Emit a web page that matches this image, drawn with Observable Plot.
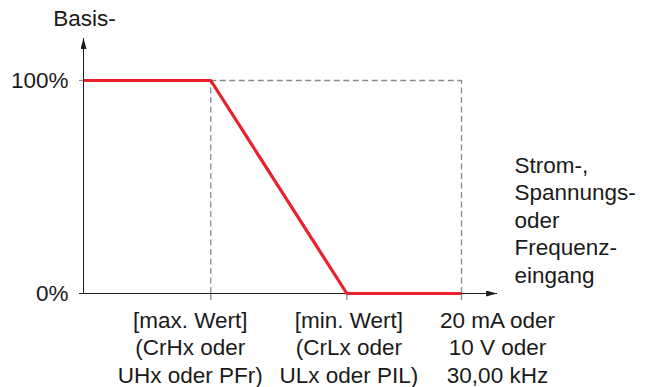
<!DOCTYPE html>
<html><head><meta charset="utf-8">
<script src="https://cdn.jsdelivr.net/npm/d3@7"></script>
<script src="https://cdn.jsdelivr.net/npm/@observablehq/plot@0.6"></script>
<style>
html,body{margin:0;padding:0;background:#fff;}
#chart svg{display:block;}
</style>
</head><body><div id="chart"></div>
<script>
// ---- data ----
const inputX = [0, 1.01, 2.09, 3];          // 0, [max. Wert], [min. Wert], 20 mA/10 V/30 kHz
const referencePct = [100, 100, 0, 0];       // Basis- (%)
const xTicks = [1.01, 2.09, 3];
const xTickLabels = [
  "[max. Wert]\n(CrHx oder\nUHx oder PFr)",
  "[min. Wert]\n(CrLx oder\nULx oder PIL)",
  "20 mA oder\n10 V oder\n30,00 kHz"
];
const yTicks = [0, 100];
const yTickLabels = ["0%", "100%"];
const yTitle = "Basis-";
const xTitle = "Strom-,\nSpannungs-\noder\nFrequenz-\neingang";
const xAxisEnd = 3.286;
const yAxisEnd = 119.7;

// ---- chart ----
const FONT = 22.5;
const LH = 1.22;
const red = "#e8212b";
const grey = "#8a8a8a";
const ink = "#1a1a1a";
const axisInk = "#1b1b1b";

const pts = inputX.map((x, i) => ({x, y: referencePct[i]}));
const labelDx = [-20.5, 2, 36];

const plot = Plot.plot({
  width: 650,
  height: 387,
  marginLeft: 83,
  marginRight: 189,
  marginTop: 80,
  marginBottom: 94,
  x: {domain: [0, 3], axis: null},
  y: {domain: [0, 100], axis: null},
  style: {fontFamily: "'Liberation Sans', Arial, Helvetica, sans-serif", fontSize: FONT + "px", color: ink, background: "#fff"},
  marks: [
    // dashed guides
    Plot.ruleX([xTicks[0], xTicks[2]], {y1: 0, y2: 100, stroke: grey, strokeWidth: 1.3, strokeDasharray: "6,3.5"}),
    Plot.ruleY([100], {x1: xTicks[0], x2: xTicks[2], stroke: grey, strokeWidth: 1.3, strokeDasharray: "6,3.5"}),
    // x ticks (no text)
    Plot.axisX({ticks: xTicks, tickSize: 7, tickFormat: () => "", stroke: grey, strokeWidth: 1.3, label: null}),
    // y ticks and labels
    Plot.axisY({ticks: yTicks, tickSize: 4, tickPadding: 11, tickFormat: d => yTickLabels[yTicks.indexOf(d)], stroke: grey, fill: ink, fontSize: FONT, label: null}),
    // axis lines with arrowheads
    Plot.ruleY([0], {x1: 0, x2: xAxisEnd, stroke: axisInk, strokeWidth: 1, insetLeft: -4}),
    Plot.ruleX([0], {y1: 0, y2: yAxisEnd, stroke: axisInk, strokeWidth: 1}),
    // reference curve
    Plot.line(pts, {x: "x", y: "y", stroke: red, strokeWidth: 3.2, strokeLinejoin: "miter", strokeLinecap: "butt"}),
    // x tick labels
    ...xTicks.map((t, i) => Plot.text([xTickLabels[i]], {
      x: () => t, y: () => 0, text: d => d, textAnchor: "middle", lineAnchor: "top",
      lineHeight: LH, dy: 15, dx: labelDx[i], fill: ink, fontSize: FONT
    })),
    // y title
    Plot.text([yTitle], {x: () => 0, y: () => yAxisEnd, text: d => d, textAnchor: "middle", lineAnchor: "bottom", dy: -13, dx: 1, fill: ink, fontSize: FONT}),
    // x title
    Plot.text([xTitle], {x: () => 3, y: () => 0, text: d => d, textAnchor: "start", lineAnchor: "bottom", lineHeight: LH, dx: 53, dy: -11, fill: ink, fontSize: FONT})
  ]
});

// arrowhead markers on the axis lines
const svg = d3.select(plot);
const defs = svg.insert("defs", ":first-child");
defs.append("marker")
  .attr("id", "ah").attr("viewBox", "0 0 11 6").attr("refX", 11).attr("refY", 3)
  .attr("markerWidth", 11).attr("markerHeight", 6).attr("markerUnits", "userSpaceOnUse").attr("orient", "auto")
  .append("path").attr("d", "M0,0L11,3L0,6Z").attr("fill", axisInk);
svg.selectAll("line").filter(function() {
  let n = this;
  while (n && n !== plot) {
    if (n.getAttribute && n.getAttribute("stroke") === axisInk) return true;
    n = n.parentNode;
  }
  return false;
}).attr("marker-end", "url(#ah)");

document.getElementById("chart").appendChild(plot);
</script>
</body></html>
